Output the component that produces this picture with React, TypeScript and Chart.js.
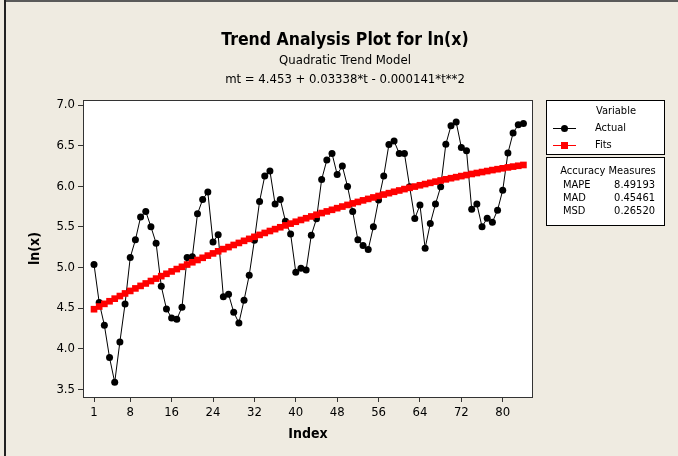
import React, { useEffect, useRef } from "react";
import { Chart, registerables } from "chart.js";

Chart.register(...registerables);

// ---- Data ----
const actualValues: number[] = [
  5.037, 4.568, 4.289, 3.890, 3.586, 4.083, 4.551, 5.123, 5.340, 5.620,
  5.690, 5.501, 5.299, 4.769, 4.490, 4.379, 4.363, 4.510, 5.123, 5.131,
  5.660, 5.837, 5.928, 5.312, 5.402, 4.638, 4.671, 4.449, 4.317, 4.597,
  4.905, 5.336, 5.813, 6.125, 6.187, 5.780, 5.837, 5.570, 5.412, 4.942,
  4.991, 4.970, 5.398, 5.599, 6.084, 6.322, 6.404, 6.145, 6.248, 5.998,
  5.690, 5.340, 5.271, 5.222, 5.501, 5.830, 6.127, 6.514, 6.556, 6.404,
  6.404, 5.995, 5.603, 5.768, 5.238, 5.542, 5.780, 5.993, 6.516, 6.745,
  6.790, 6.478, 6.437, 5.718, 5.780, 5.501, 5.607, 5.558, 5.706, 5.952,
  6.408, 6.655, 6.757, 6.774,
];

const fitValues: number[] = [
  4.486, 4.519, 4.552, 4.584, 4.616, 4.648, 4.680, 4.711, 4.742, 4.773,
  4.803, 4.833, 4.863, 4.893, 4.922, 4.951, 4.980, 5.008, 5.036, 5.064,
  5.092, 5.119, 5.146, 5.173, 5.199, 5.226, 5.251, 5.277, 5.302, 5.328,
  5.352, 5.377, 5.401, 5.425, 5.449, 5.472, 5.495, 5.518, 5.540, 5.563,
  5.585, 5.606, 5.628, 5.649, 5.670, 5.690, 5.710, 5.730, 5.750, 5.770,
  5.789, 5.807, 5.826, 5.844, 5.862, 5.880, 5.898, 5.915, 5.932, 5.948,
  5.965, 5.981, 5.996, 6.012, 6.027, 6.042, 6.057, 6.071, 6.085, 6.099,
  6.112, 6.125, 6.138, 6.151, 6.163, 6.175, 6.187, 6.199, 6.210, 6.221,
  6.232, 6.242, 6.252, 6.262,
];

const indexValues: number[] = actualValues.map((_, i) => i + 1);

const xTickValues: number[] = [1, 8, 16, 24, 32, 40, 48, 56, 64, 72, 80];
const yTickValues: number[] = [3.5, 4.0, 4.5, 5.0, 5.5, 6.0, 6.5, 7.0];

const titleLines: string[] = [
  "Trend Analysis Plot for ln(x)",
  "Quadratic Trend Model",
  "mt = 4.453 + 0.03338*t - 0.000141*t**2",
];
const seriesNames: string[] = ["Actual", "Fits"];
const accuracyLabels: string[] = ["MAPE", "MAD", "MSD"];
const accuracyValues: string[] = ["8.49193", "0.45461", "0.26520"];

const FONT = 'Tahoma, "DejaVu Sans Condensed", "Liberation Sans", Arial, sans-serif';
const BG = "#EFEBE1";

const decorPlugin = {
  id: "decor",
  beforeDraw(chart: any) {
    const { ctx, width, height, chartArea } = chart;
    ctx.save();
    ctx.fillStyle = BG;
    ctx.fillRect(0, 0, width, height);
    // outer border (top + left)
    ctx.fillStyle = "#5a5a5a";
    ctx.fillRect(4, 0, width - 4, 2);
    ctx.fillStyle = "#222222";
    ctx.fillRect(4, 0, 2, height);
    ctx.fillStyle = "#ffffff";
    ctx.fillRect(chartArea.left, chartArea.top, chartArea.right - chartArea.left, chartArea.bottom - chartArea.top);
    ctx.restore();
  },
  afterDraw(chart: any) {
    const { ctx, chartArea } = chart;
    ctx.save();
    // plot frame
    ctx.strokeStyle = "#333333";
    ctx.lineWidth = 1;
    ctx.strokeRect(chartArea.left + 0.5, chartArea.top + 0.5, chartArea.right - chartArea.left - 1, chartArea.bottom - chartArea.top);

    // titles
    ctx.fillStyle = "#000000";
    ctx.textAlign = "center";
    ctx.textBaseline = "middle";
    ctx.font = `bold 17.5px ${FONT}`;
    ctx.fillText(titleLines[0], 345, 40);
    ctx.font = `13px ${FONT}`;
    ctx.fillText(titleLines[1], 345, 61);
    ctx.fillText(titleLines[2], 345, 80);

    // axis titles
    ctx.font = `bold 14px ${FONT}`;
    ctx.fillText("Index", (chartArea.left + chartArea.right) / 2, 434);
    ctx.save();
    ctx.translate(35, (chartArea.top + chartArea.bottom) / 2);
    ctx.rotate(-Math.PI / 2);
    ctx.fillText("ln(x)", 0, 0);
    ctx.restore();

    // legend box
    ctx.fillStyle = "#ffffff";
    ctx.fillRect(546, 100, 119, 55);
    ctx.strokeStyle = "#000000";
    ctx.strokeRect(546.5, 100.5, 118, 54);
    ctx.fillStyle = "#000000";
    ctx.font = `11px ${FONT}`;
    ctx.textAlign = "center";
    ctx.fillText("Variable", 616, 111);
    // Actual
    ctx.beginPath();
    ctx.moveTo(553, 128.5);
    ctx.lineTo(576, 128.5);
    ctx.strokeStyle = "#000000";
    ctx.stroke();
    ctx.beginPath();
    ctx.arc(564.5, 128.5, 3.5, 0, Math.PI * 2);
    ctx.fillStyle = "#000000";
    ctx.fill();
    ctx.textAlign = "left";
    ctx.fillText(seriesNames[0], 595, 128);
    // Fits
    ctx.beginPath();
    ctx.moveTo(553, 145.5);
    ctx.lineTo(576, 145.5);
    ctx.strokeStyle = "#ff0000";
    ctx.stroke();
    ctx.fillStyle = "#ff0000";
    ctx.fillRect(561, 142, 7, 7);
    ctx.fillStyle = "#000000";
    ctx.fillText(seriesNames[1], 595, 145);

    // accuracy box
    ctx.fillStyle = "#ffffff";
    ctx.fillRect(546, 157, 119, 69);
    ctx.strokeStyle = "#000000";
    ctx.strokeRect(546.5, 157.5, 118, 68);
    ctx.fillStyle = "#000000";
    ctx.textAlign = "center";
    ctx.fillText("Accuracy Measures", 608, 171);
    for (let i = 0; i < accuracyLabels.length; i++) {
      const y = 185 + i * 13.3;
      ctx.textAlign = "left";
      ctx.fillText(accuracyLabels[i], 563, y);
      ctx.textAlign = "right";
      ctx.fillText(accuracyValues[i], 655, y);
    }
    ctx.restore();
  },
};

export default function App() {
  const canvasRef = useRef<HTMLCanvasElement | null>(null);

  useEffect(() => {
    if (!canvasRef.current) return;
    const chart = new Chart(canvasRef.current, {
      type: "line",
      data: {
        datasets: [
          {
            label: seriesNames[1],
            data: indexValues.map((x, i) => ({ x, y: fitValues[i] })),
            borderColor: "#ff0000",
            backgroundColor: "#ff0000",
            borderWidth: 1,
            pointStyle: "rect",
            pointRadius: 4.7,
            pointBorderWidth: 0,
            pointBackgroundColor: "#ff0000",
            order: 0,
          },
          {
            label: seriesNames[0],
            data: indexValues.map((x, i) => ({ x, y: actualValues[i] })),
            borderColor: "#000000",
            backgroundColor: "#000000",
            borderWidth: 1,
            pointStyle: "circle",
            pointRadius: 3.5,
            pointBorderWidth: 0,
            pointBackgroundColor: "#000000",
            order: 1,
          },
        ],
      },
      options: {
        responsive: false,
        animation: false,
        devicePixelRatio: 1,
        layout: { padding: { left: 0, top: 100, right: 145, bottom: 19 } },
        plugins: { legend: { display: false }, tooltip: { enabled: false }, title: { display: false } },
        scales: {
          x: {
            type: "linear",
            min: -1.13,
            max: 85.85,
            afterBuildTicks: (s: any) => {
              s.ticks = xTickValues.map((v) => ({ value: v }));
            },
            afterFit: (s: any) => {
              s.height = 40;
            },
            ticks: {
              autoSkip: false,
              maxRotation: 0,
              padding: 3,
              color: "#000000",
              font: { family: FONT, size: 13 },
              callback: (v: any) => String(v),
            },
            grid: { drawOnChartArea: false, tickLength: 5, color: "#333333" },
            border: { display: false },
          },
          y: {
            type: "linear",
            min: 3.405,
            max: 7.062,
            afterBuildTicks: (s: any) => {
              s.ticks = yTickValues.map((v) => ({ value: v }));
            },
            afterFit: (s: any) => {
              s.width = 83;
            },
            ticks: {
              padding: 3,
              color: "#000000",
              font: { family: FONT, size: 13 },
              callback: (v: any) => Number(v).toFixed(1),
            },
            grid: { drawOnChartArea: false, tickLength: 5, color: "#333333" },
            border: { display: false },
          },
        },
      },
      plugins: [decorPlugin],
    } as any);
    return () => chart.destroy();
  }, []);

  return (
    <div style={{ position: "absolute", left: 0, top: 0, width: 678, height: 456 }}>
      <canvas ref={canvasRef} width={678} height={456} style={{ display: "block" }} />
    </div>
  );
}
